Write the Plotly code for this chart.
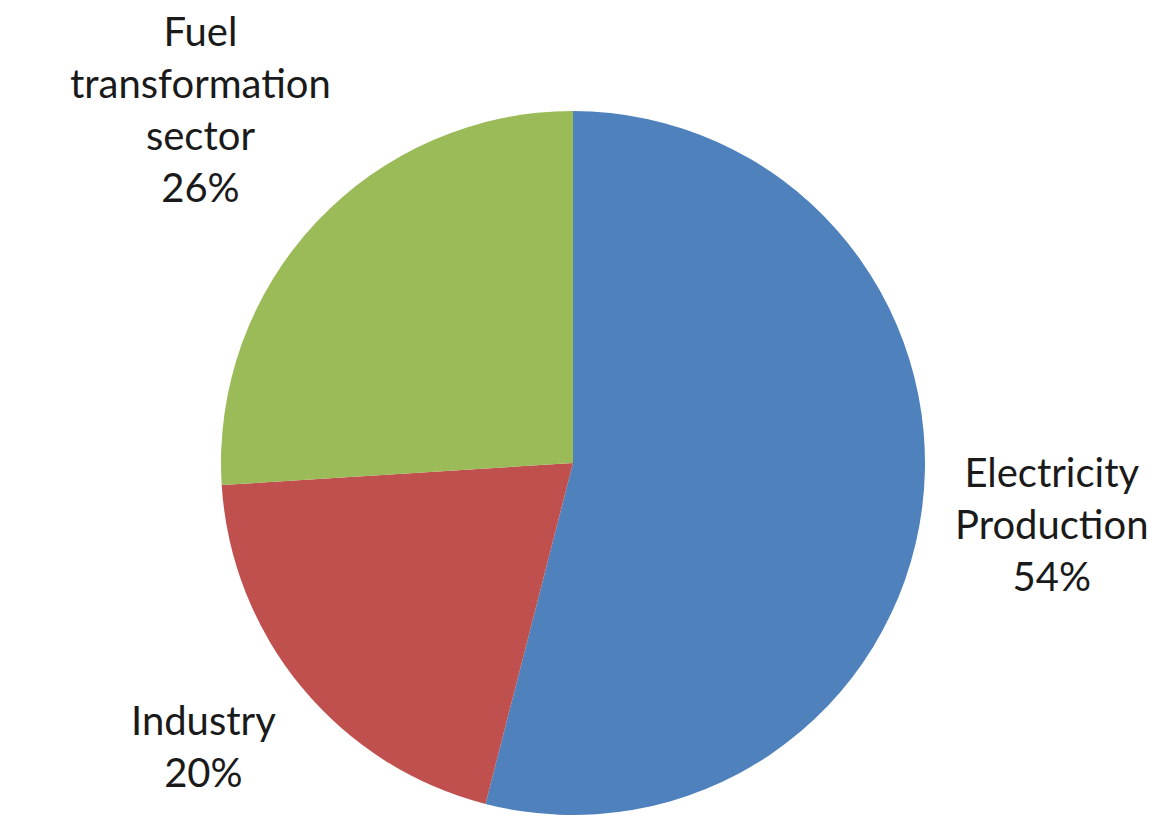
import plotly.graph_objects as go

# Share of emissions by source sector
sectors = ["Electricity<br>Production", "Industry", "Fuel<br>transformation<br>sector"]
shares = [54, 20, 26]
colors = ["#4F81BD", "#C0504D", "#9BBB59"]

W, H = 1158, 816
cx, cy, r = 573, 463, 352  # pie centre and radius in pixels

# label block centres (pixels) for each sector
label_pos = [(1052, 524), (203, 746), (200, 109)]

fig = go.Figure(
    go.Pie(
        labels=sectors,
        values=shares,
        sort=False,
        direction="clockwise",
        rotation=0,
        marker=dict(colors=colors, line=dict(width=0)),
        textinfo="none",
        domain=dict(
            x=[(cx - r) / W, (cx + r) / W],
            y=[(H - cy - r) / H, (H - cy + r) / H],
        ),
        showlegend=False,
        hoverinfo="label+percent",
    )
)

total = sum(shares)
for name, val, (px, py) in zip(sectors, shares, label_pos):
    fig.add_annotation(
        x=px / W,
        y=1 - py / H,
        xref="paper",
        yref="paper",
        xanchor="center",
        yanchor="middle",
        align="center",
        showarrow=False,
        text=f"{name}<br>{val / total * 100:.0f}%",
        font=dict(family="Lato", size=40, color="#1a1a1a"),
    )

fig.update_layout(
    width=W,
    height=H,
    margin=dict(l=0, r=0, t=0, b=0),
    paper_bgcolor="white",
    plot_bgcolor="white",
)

fig.write_html("out.html")
